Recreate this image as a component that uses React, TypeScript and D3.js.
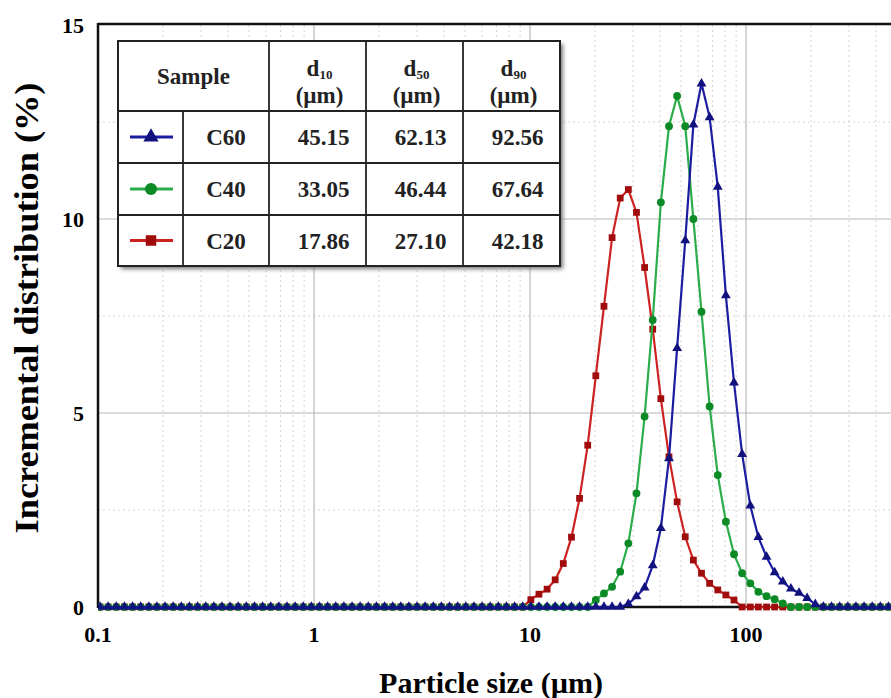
import React from "react";
import * as d3 from "d3";

// particle size channels (µm), 2^(1/8) progression
const SIZES = [
  0.1022, 0.1114, 0.1215, 0.1325, 0.1445, 0.1576,
  0.1719, 0.1874, 0.2044, 0.2229, 0.2431, 0.2651, 0.2891, 0.3152,
  0.3438, 0.3749, 0.4088, 0.4458, 0.4861, 0.5301, 0.5781, 0.6305,
  0.6875, 0.7497, 0.8176, 0.8916, 0.9723, 1.06, 1.156, 1.261,
  1.375, 1.5, 1.635, 1.783, 1.945, 2.121, 2.313, 2.522,
  2.75, 2.999, 3.27, 3.566, 3.889, 4.241, 4.625, 5.044,
  5.5, 5.998, 6.541, 7.132, 7.778, 8.482, 9.25, 10.09,
  11.0, 12.0, 13.08, 14.26, 15.56, 16.96, 18.5, 20.17,
  22.0, 23.99, 26.16, 28.53, 31.11, 33.93, 37.0, 40.35,
  44.0, 47.98, 52.33, 57.06, 62.23, 67.86, 74.0, 80.7,
  88.0, 95.96, 104.7, 114.1, 124.5, 135.7, 148.0, 161.4,
  176.0, 191.9, 209.3, 228.2, 248.9, 271.4, 296.0, 322.8,
  352.0, 383.9, 418.6, 456.5, 497.8,
];

// non-zero stretch of each distribution, starting at the given channel
const C20_FROM = 10.09;
const C20 = [0.19, 0.33, 0.46, 0.7, 1.12, 1.8, 2.8, 4.17, 5.96, 7.75, 9.52, 10.54, 10.76,
  10.17, 8.75, 7.16, 5.37, 3.87, 2.71, 1.81, 1.21, 0.87, 0.61, 0.44, 0.31, 0.18];
const C40_FROM = 20.17;
const C40 = [0.18, 0.35, 0.52, 0.91, 1.64, 2.93, 4.91, 7.4, 10.43, 12.39, 13.17, 12.39,
  10.0, 7.61, 5.17, 3.4, 2.2, 1.36, 0.87, 0.61, 0.39, 0.28, 0.2, 0.09];
const C60_FROM = 28.53;
const C60 = [0.08, 0.27, 0.5, 1.07, 2.03, 3.83, 6.67, 9.45, 12.43, 13.49, 12.62, 10.83,
  8.03, 5.78, 3.94, 2.61, 1.8, 1.29, 0.89, 0.65, 0.47, 0.36, 0.23, 0.07];

const SAMPLES = ["C60", "C40", "C20"];
const D10 = ["45.15", "33.05", "17.86"];
const D50 = ["62.13", "46.44", "27.10"];
const D90 = ["92.56", "67.64", "42.18"];

const X_TICKS = [0.1, 1, 10, 100];
const Y_TICKS = [0, 5, 10, 15];

const FONT = "'Liberation Serif', 'Times New Roman', serif";

function fill(from: number, vals: number[]) {
  const i0 = SIZES.indexOf(from);
  return SIZES.map((s, i) => ({ x: s, y: i >= i0 && i < i0 + vals.length ? vals[i - i0] : 0 }));
}

const SERIES = [
  { name: "C20", data: fill(C20_FROM, C20), line: "#cc2222", mark: "#a00c0c", sym: d3.symbolSquare, size: 46 },
  { name: "C40", data: fill(C40_FROM, C40), line: "#2aad4a", mark: "#0c8a26", sym: d3.symbolCircle, size: 48 },
  { name: "C60", data: fill(C60_FROM, C60), line: "#1c1ca0", mark: "#12127e", sym: d3.symbolTriangle, size: 42 },
];

export default function App() {
  const W = 891, H = 698;
  const m = { l: 98, t: 25, b: 607 };
  const x = d3.scaleLog().domain([0.1, 1000]).range([m.l, m.l + 4 * 216]);
  const y = d3.scaleLinear().domain([0, 15]).range([m.b, m.t]);
  const line = d3.line<{ x: number; y: number }>().x(d => x(d.x)).y(d => y(d.y));

  const minorX: number[] = [];
  for (let e = -1; e < 3; e++) for (let k = 2; k <= 9; k++) minorX.push(k * Math.pow(10, e));
  const minorY = [2.5, 7.5, 12.5];

  // table geometry
  const cols = [118, 183, 269, 366, 463, 560];
  const rows = [41, 111, 163, 215, 266];
  const bySample = (n: string) => SERIES.find(s => s.name === n)!;
  const TF = 23;

  return (
    <svg width={W} height={H} style={{ position: "absolute", left: 0, top: 0, background: "#fff" }}
      fontFamily={FONT} fontWeight="bold">
      <defs>
        <filter id="sh" x="-10%" y="-10%" width="130%" height="130%">
          <feGaussianBlur stdDeviation="2" />
        </filter>
        <clipPath id="plot"><rect x={m.l} y={m.t - 2} width={W - m.l} height={m.b - m.t + 6} /></clipPath>
      </defs>

      {/* grid */}
      {minorX.map(v => (
        <line key={"mx" + v} x1={x(v)} x2={x(v)} y1={m.t} y2={m.b} stroke="#d4d4d4" strokeWidth={1} strokeDasharray="2,3" />
      ))}
      {minorY.map(v => (
        <line key={"my" + v} x1={m.l} x2={W} y1={y(v)} y2={y(v)} stroke="#d4d4d4" strokeWidth={1} strokeDasharray="2,3" />
      ))}
      {[1, 10, 100].map(v => (
        <line key={"gx" + v} x1={x(v)} x2={x(v)} y1={m.t} y2={m.b} stroke="#b8b8b8" strokeWidth={1.2} />
      ))}
      {[5, 10].map(v => (
        <line key={"gy" + v} x1={m.l} x2={W} y1={y(v)} y2={y(v)} stroke="#b8b8b8" strokeWidth={1.2} />
      ))}

      {/* frame */}
      <line x1={m.l} x2={W} y1={m.t - 1} y2={m.t - 1} stroke="#111" strokeWidth={2.5} />
      <line x1={m.l} x2={m.l} y1={m.t - 2} y2={m.b + 1} stroke="#111" strokeWidth={2.5} />
      <line x1={m.l} x2={W} y1={m.b} y2={m.b} stroke="#111" strokeWidth={2.5} />

      {/* series */}
      <g clipPath="url(#plot)">
        {SERIES.map(s => (
          <g key={s.name}>
            <path d={line(s.data) || ""} fill="none" stroke={s.line} strokeWidth={2.2} />
            {s.data.map((d, i) => (
              <path key={i} d={d3.symbol().type(s.sym).size(s.size)() || ""}
                transform={`translate(${x(d.x)},${y(d.y)})`} fill={s.mark} />
            ))}
          </g>
        ))}
      </g>

      {/* ticks */}
      {Y_TICKS.map(v => (
        <text key={"yt" + v} x={84} y={y(v)} dy="0.35em" textAnchor="end" fontSize={22}>{v}</text>
      ))}
      {X_TICKS.map(v => (
        <text key={"xt" + v} x={x(v)} y={642} textAnchor="middle" fontSize={22}>{v}</text>
      ))}

      {/* axis titles */}
      <text transform="translate(38,308) rotate(-90) scale(1.1,1)" textAnchor="middle" fontSize={33}>Incremental distribution (%)</text>
      <text x={491} y={693} textAnchor="middle" fontSize={30}>Particle size (µm)</text>

      {/* table */}
      <rect x={cols[0] + 3} y={rows[0] + 3} width={cols[5] - cols[0]} height={rows[4] - rows[0]} fill="#777" filter="url(#sh)" />
      <rect x={cols[0]} y={rows[0]} width={cols[5] - cols[0]} height={rows[4] - rows[0]} fill="#fff" stroke="#222" strokeWidth={2} />
      {rows.slice(1, 4).map(r => (
        <line key={"r" + r} x1={cols[0]} x2={cols[5]} y1={r} y2={r} stroke="#222" strokeWidth={1.8} />
      ))}
      <line x1={cols[1]} x2={cols[1]} y1={rows[1]} y2={rows[4]} stroke="#222" strokeWidth={1.8} />
      {cols.slice(2, 5).map(c => (
        <line key={"c" + c} x1={c} x2={c} y1={rows[0]} y2={rows[4]} stroke="#222" strokeWidth={1.8} />
      ))}

      <text x={(cols[0] + cols[2]) / 2} y={(rows[0] + rows[1]) / 2} dy="0.35em" textAnchor="middle" fontSize={TF} fill="#222">Sample</text>
      {["10", "50", "90"].map((sub, i) => {
        const cx = (cols[i + 2] + cols[i + 3]) / 2 + 2;
        return (
          <g key={sub} fill="#222">
            <text x={cx} y={76} textAnchor="middle" fontSize={TF}>d<tspan fontSize={13} dy={3}>{sub}</tspan></text>
            <text x={cx} y={103} textAnchor="middle" fontSize={TF}>(µm)</text>
          </g>
        );
      })}

      {SAMPLES.map((n, i) => {
        const cy = (rows[i + 1] + rows[i + 2]) / 2;
        const s = bySample(n);
        const vals = [D10[i], D50[i], D90[i]];
        return (
          <g key={n} fill="#222">
            <line x1={130} x2={173} y1={cy} y2={cy} stroke={s.line} strokeWidth={3} />
            <path d={d3.symbol().type(s.sym).size(s.size * 2.4)() || ""} transform={`translate(151,${cy})`} fill={s.mark} />
            <text x={(cols[1] + cols[2]) / 2} y={cy} dy="0.35em" textAnchor="middle" fontSize={TF}>{n}</text>
            {vals.map((v, j) => (
              <text key={j} x={(cols[j + 2] + cols[j + 3]) / 2 + 6} y={cy} dy="0.35em" textAnchor="middle" fontSize={TF}>{v}</text>
            ))}
          </g>
        );
      })}
    </svg>
  );
}
